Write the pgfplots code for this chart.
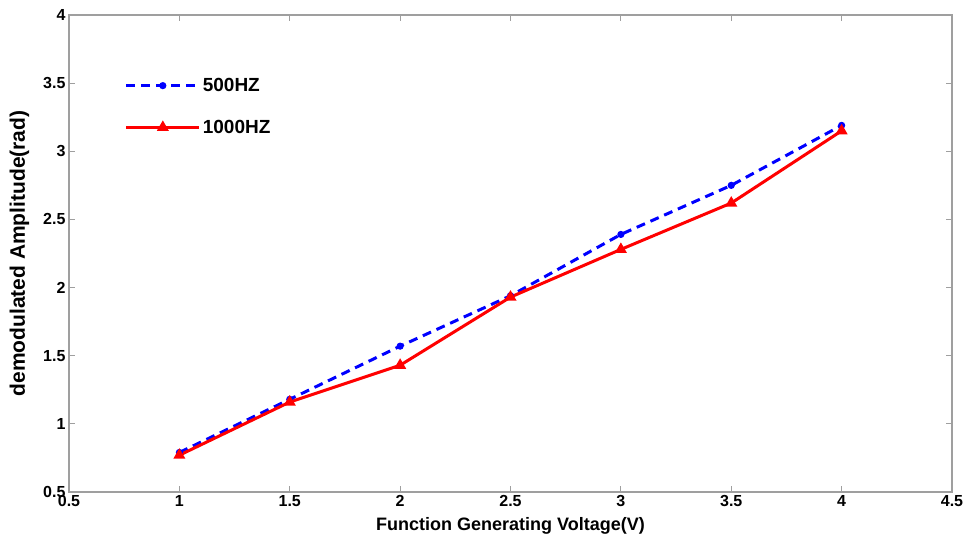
\documentclass[border=0pt]{standalone}
\usepackage{pgfplots}
\pgfplotsset{compat=1.18}
\usepackage{fontspec}
\setmainfont{Liberation Sans}
\begin{document}
\begin{tikzpicture}
\begin{axis}[
    scale only axis,
    width=883pt,
    height=477pt,
    xmin=0.5, xmax=4.5,
    ymin=0.5, ymax=4,
    xtick={0.5,1,...,4.5},
    ytick={0.5,1,...,4},
    axis line style={gray!75, line width=1.5pt},
    tick style={gray!75, line width=1pt},
    major tick length=6pt,
    tick label style={font=\fontsize{16}{16}\selectfont\bfseries},
    /pgf/number format/assume math mode=true,
    xlabel={Function Generating Voltage(V)},
    ylabel={demodulated Amplitude(rad)},
    xlabel style={font=\fontsize{18}{18}\selectfont\bfseries,
        at={(axis description cs:0.5,0)}, anchor=center, yshift=-34pt},
    ylabel style={font=\fontsize{21}{21}\selectfont\bfseries,
        at={(axis description cs:-0.056,0.5)}, anchor=center},
    legend style={draw=none, fill=none, inner sep=0pt, at={(axis description cs:0.063,0.872)}, anchor=north west,
        font=\fontsize{19}{19}\selectfont\bfseries, row sep=23pt},
    legend cell align=left,
    legend image code/.code={
        \draw[#1] (0pt,0pt) -- (73pt,0pt);
        \draw[#1, solid, only marks] plot coordinates {(36.5pt,0pt)};
    },
]
\addplot[blue, dash pattern=on 9pt off 6pt, line width=3pt,
    mark=*, mark size=2pt, mark options={solid}]
coordinates {
    (1,0.79) (1.5,1.18) (2,1.57) (2.5,1.94) (3,2.39) (3.5,2.75) (4,3.19)
};
\addplot[red, line width=3pt,
    mark=triangle*, mark size=4pt, mark options={solid}]
coordinates {
    (1,0.77) (1.5,1.16) (2,1.43) (2.5,1.93) (3,2.28) (3.5,2.62) (4,3.15)
};
\legend{500HZ, 1000HZ}
\end{axis}
\pgfresetboundingbox
\path[use as bounding box] (-69pt,-46pt) rectangle (906pt,492pt);
\end{tikzpicture}
\end{document}
